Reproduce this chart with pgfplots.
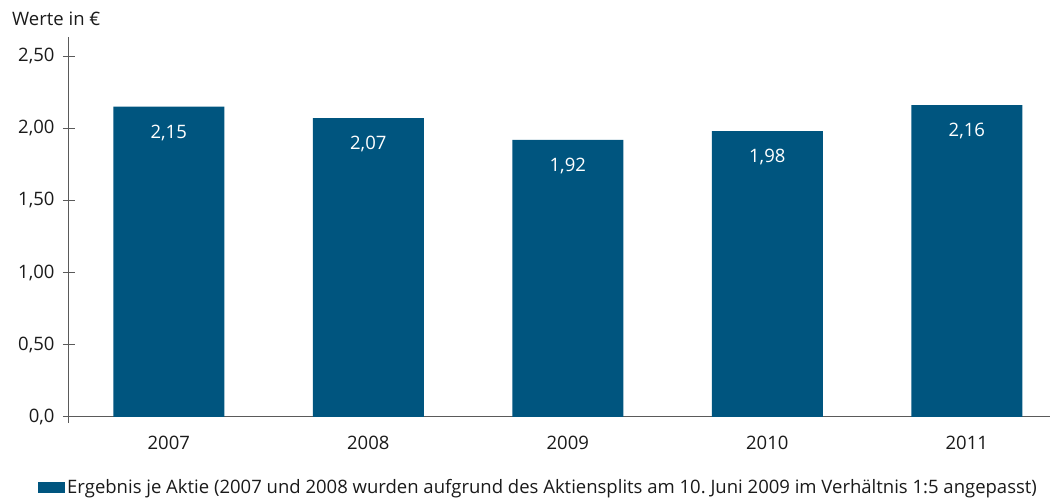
\documentclass[border=0pt]{standalone}
\usepackage{pgfplots}
\pgfplotsset{compat=1.18}
\usepackage{fontspec}
\setmainfont{Open Sans}
\definecolor{barblue}{HTML}{00557F}
\definecolor{axisgray}{HTML}{5A5A5A}
\definecolor{txt}{HTML}{1A1A1A}
\newcommand{\fs}{\fontsize{18.5}{20}\selectfont}
\begin{document}
\begin{tikzpicture}[x=1pt,y=1pt]
\useasboundingbox (0,0) rectangle (1052,500);
\node[anchor=base west, font=\fs, text=txt, inner sep=0pt] at (12,474) {Werte in €};
\begin{axis}[
  at={(69pt,83pt)}, anchor=south west,
  scale only axis, width=981pt, height=380pt,
  xmin=-0.5, xmax=4.417, ymin=0, ymax=2.632,
  axis x line=bottom, axis y line=left,
  axis line style={-, draw=axisgray, line width=1pt},
  y axis line style={shorten <=-6pt},
  ytick={0,0.5,1,1.5,2,2.5},
  yticklabels={{0,0},{0,50},{1,00},{1,50},{2,00},{2,50}},
  ytick style={draw=axisgray, line width=1pt},
  tick align=center, major tick length=12pt,
  xtick={0,1,2,3,4}, xticklabels={2007,2008,2009,2010,2011},
  xtick style={draw=none},
  /pgf/number format/assume math mode=true,
  ticklabel style={font=\fs, text=txt},
  yticklabel style={anchor=east, xshift=-5pt},
  xticklabel style={yshift=-4pt},
  ybar, bar width=111pt,
  nodes near coords={\pgfmathprintnumber[fixed,fixed zerofill,precision=2,use comma]{\pgfplotspointmeta}},
  every node near coord/.append style={anchor=center, yshift=-26pt, text=white, font=\fs},
  legend style={at={(-0.0316,-0.1855)}, anchor=west, draw=none, fill=none, inner sep=0pt,
    font=\fs, text=txt},
  legend cell align=left,
  clip=false,
]
\addplot[fill=barblue, draw=none,
  legend image code/.code={\fill[barblue] (0pt,-5.5pt) rectangle (27pt,5.5pt);}]
  coordinates {(0,2.15) (1,2.07) (2,1.92) (3,1.98) (4,2.16)};
\addlegendentry{Ergebnis je Aktie (2007 und 2008 wurden aufgrund des Aktiensplits am 10.~Juni 2009 im Verhältnis 1:5 angepasst)}
\end{axis}
\end{tikzpicture}
\end{document}
